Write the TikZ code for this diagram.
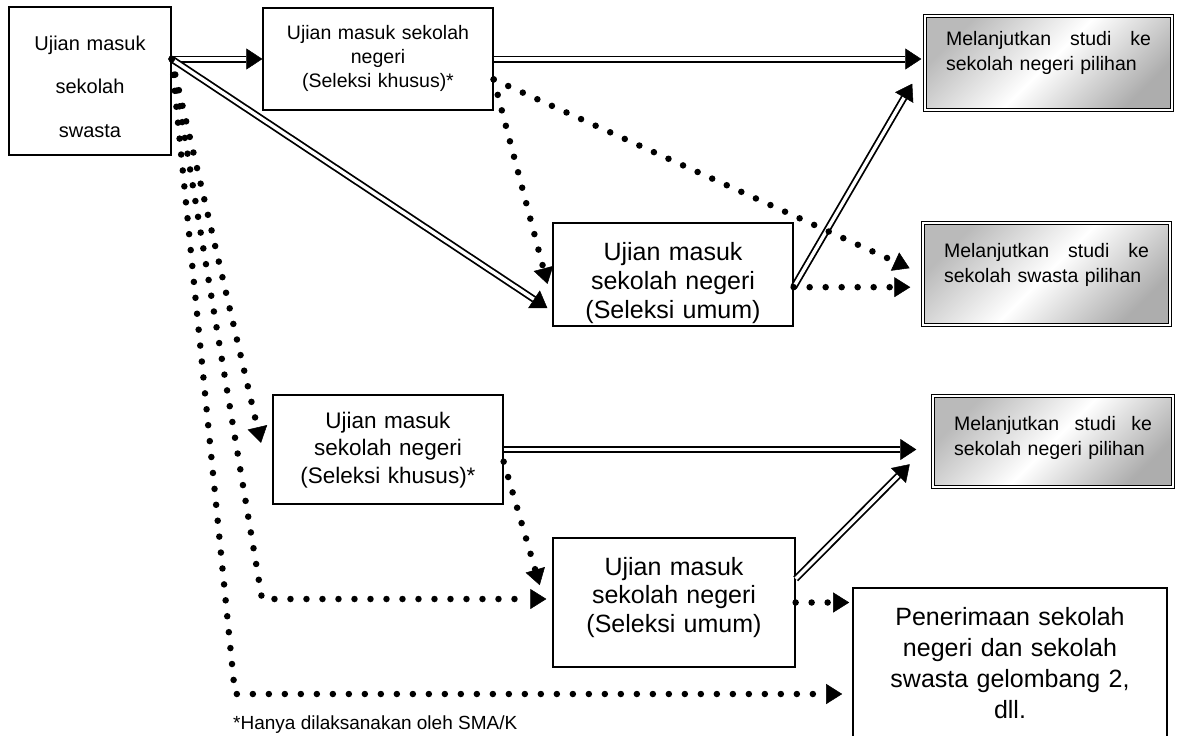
\documentclass[tikz,border=0pt]{standalone}
\usepackage{fontspec}
\setmainfont{Liberation Sans}
\usepackage{tikz}
\usetikzlibrary{arrows.meta}
\newcommand{\jgap}{\hskip 0pt plus 1fill\relax}

\begin{document}
\begin{tikzpicture}[x=1pt,y=-1pt,
  box/.style={draw,line width=1.3pt,inner sep=0pt,align=center},
  resbox/.style={draw,double,double distance=2pt,line width=1.4pt,inner ysep=0pt,inner xsep=21pt,align=left,
    top color=black!27,bottom color=black!32,middle color=white,shading angle=45,
    font=\fontsize{19.5}{25.5}\selectfont},
  dblarrow/.style={double,double distance=3.4pt,line width=1.8pt,-{Triangle[length=16pt,width=21pt,line width=0.5pt]}},
  dotarrow/.style={line width=6.5pt,line cap=round,dash pattern=on 0pt off 16pt,-{Triangle[length=16pt,width=20pt,line width=0.5pt]},shorten >=6pt}]
\useasboundingbox (0,0) rectangle (1181,736);
% Boxes
\node[box,text width=162pt,text height=43pt,text depth=105pt,font=\fontsize{20}{43.5}\selectfont] (swasta) at (90,81) {Ujian masuk\\sekolah\\swasta};
\node[box,text width=230pt,text height=31pt,text depth=71pt,font=\fontsize{19.5}{24}\selectfont] (khusus1) at (378,59) {Ujian masuk sekolah\\negeri\\(Seleksi khusus)*};
\node[box,text width=240pt,text height=37pt,text depth=66pt,font=\fontsize{25}{29}\selectfont] (umum1) at (673,274.5) {Ujian masuk\\sekolah negeri\\(Seleksi umum)};
\node[box,text width=230pt,text height=33pt,text depth=76pt,font=\fontsize{22.5}{27.5}\selectfont] (khusus2) at (388,449.5) {Ujian masuk\\sekolah negeri\\(Seleksi khusus)*};
\node[box,text width=242pt,text height=37pt,text depth=92pt,font=\fontsize{25}{28.5}\selectfont] (umum2) at (674,602.5) {Ujian masuk\\sekolah negeri\\(Seleksi umum)};
\node[box,line width=1.6pt,text width=314pt,text height=37pt,text depth=125pt,font=\fontsize{25}{31}\selectfont] (gelombang) at (1010,669) {Penerimaan sekolah\\negeri dan sekolah\\swasta gelombang 2,\\dll.};
% Result boxes
\node[resbox,text width=205pt,text height=29pt,text depth=65pt] (negeri1) at (1048.5,63) {Melanjutkan\jgap studi\jgap ke\\sekolah negeri pilihan};
\node[resbox,text width=205pt,text height=34pt,text depth=68pt] (swastapil) at (1046.5,274) {Melanjutkan\jgap studi\jgap ke\\sekolah swasta pilihan};
\node[resbox,text width=198pt,text height=34pt,text depth=57pt] (negeri2) at (1053,441.5) {Melanjutkan\jgap studi\jgap ke\\sekolah negeri pilihan};
% Double arrows
\coordinate (hub) at (swasta.east |- khusus1.west);
\draw[dblarrow] (hub) -- (khusus1.west);
\draw[dblarrow,shorten >=6pt] (hub) -- (umum1.197);
\draw[dblarrow,shorten >=3pt] (khusus1.east) -- (khusus1.east -| negeri1.west);
\draw[dblarrow,shorten >=24pt] (umum1.354) -- (negeri1.west);
\draw[dblarrow,shorten >=16pt] (khusus2.east) -- (khusus2.east -| negeri2.west);
\draw[dblarrow,shorten >=32pt] (umum2.11) -- (negeri2.west);
% Dotted arrows
\coordinate (bendD) at (262,599);
\coordinate (bendP) at (235,694);
\draw[dotarrow,shorten >=19pt] (khusus1.350) -- (umum1.193);
\draw[dotarrow,shorten >=14pt] (khusus1.350) -- (swastapil.west);
\draw[dotarrow,shorten >=12pt] (umum1.354) -- (umum1.354 -| swastapil.west);
\draw[dotarrow,shorten >=50pt] (hub) -- (khusus2.200);
\draw[dotarrow] (hub) -- (bendD) -- (bendD -| umum2.west);
\draw[dotarrow,shorten >=10pt] (hub) -- (bendP) -- (bendP -| gelombang.west);
\draw[dotarrow,shorten >=45pt] (khusus2.354) -- (umum2.192);
\draw[dotarrow,shorten >=3pt] (umum2.east) -- (umum2.east -| gelombang.west);
% Note
\node[anchor=base west,inner sep=0pt,font=\fontsize{19}{24}\selectfont] (note) at (233,729) {*Hanya dilaksanakan oleh SMA/K};
\end{tikzpicture}
\end{document}
